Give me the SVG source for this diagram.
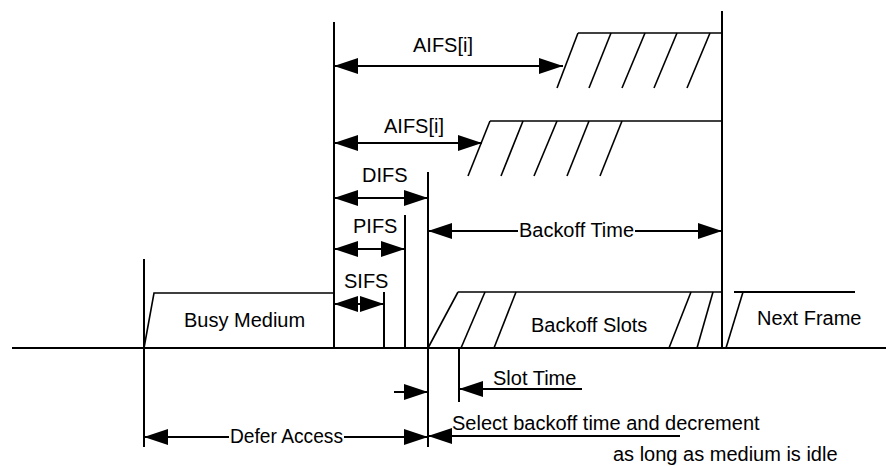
<svg xmlns="http://www.w3.org/2000/svg" width="886" height="466" viewBox="0 0 886 466">
<defs>
<marker id="ah" markerUnits="userSpaceOnUse" markerWidth="24" markerHeight="16" refX="24" refY="8" orient="auto-start-reverse">
<path d="M0,0 L24,8 L0,16 z" fill="#000"/>
</marker>
<style>
.ln{stroke:#000;stroke-width:2;fill:none}
.th{stroke:#000;stroke-width:1.6;fill:none}
.ar{stroke:#000;stroke-width:2;fill:none;marker-end:url(#ah)}
.da{stroke:#000;stroke-width:2;fill:none;marker-start:url(#ah);marker-end:url(#ah)}
text{font-family:"Liberation Sans",Arial,sans-serif;font-size:20px;fill:#000}
</style>
</defs>
<rect width="886" height="466" fill="#fff"/>

<g id="timeline">
<line class="ln" x1="12" y1="348" x2="886" y2="348"/>
</g>

<g id="busy-medium">
<polyline class="th" points="144,348 154,293 334,293"/>
<text x="184" y="327">Busy Medium</text>
</g>

<g id="aifs-top-slots">
<line class="th" x1="578" y1="33" x2="722" y2="33"/>
<line class="th" x1="557" y1="88" x2="578" y2="33"/>
<line class="th" x1="589" y1="88" x2="611" y2="33"/>
<line class="th" x1="622" y1="88" x2="645" y2="33"/>
<line class="th" x1="654" y1="88" x2="677" y2="33"/>
<line class="th" x1="687" y1="88" x2="710" y2="33"/>
</g>

<g id="aifs-second-slots">
<line class="th" x1="490" y1="121" x2="722" y2="121"/>
<line class="th" x1="468" y1="176" x2="490" y2="121"/>
<line class="th" x1="501" y1="176" x2="523" y2="121"/>
<line class="th" x1="534" y1="176" x2="557" y2="121"/>
<line class="th" x1="567" y1="176" x2="589" y2="121"/>
<line class="th" x1="600" y1="176" x2="622" y2="121"/>
</g>

<g id="backoff-slots">
<line class="th" x1="458" y1="292" x2="721" y2="292"/>
<line class="th" x1="428" y1="348" x2="458" y2="292"/>
<line class="th" x1="461" y1="348" x2="485" y2="292"/>
<line class="th" x1="494" y1="348" x2="516" y2="292"/>
<line class="th" x1="669" y1="348" x2="691" y2="292"/>
<line class="th" x1="697" y1="348" x2="713" y2="292"/>
<text x="531" y="332">Backoff Slots</text>
</g>

<g id="next-frame">
<line class="ln" x1="734" y1="292" x2="855" y2="292"/>
<line class="th" x1="726" y1="348" x2="743" y2="292"/>
<text x="757" y="325">Next Frame</text>
</g>

<g id="markers">
<line class="ln" x1="144" y1="259" x2="144" y2="447"/>
<line class="ln" x1="334" y1="22" x2="334" y2="348"/>
<line class="ln" x1="384" y1="292" x2="384" y2="348"/>
<line class="ln" x1="405" y1="215" x2="405" y2="348"/>
<line class="ln" x1="428" y1="172" x2="428" y2="447"/>
<line class="ln" x1="722" y1="11" x2="722" y2="348"/>
<line class="ln" x1="459" y1="348" x2="459" y2="402"/>
</g>

<g id="connectors">
<line class="ar" x1="450" y1="66" x2="334" y2="66"/>
<line class="ar" x1="450" y1="66" x2="563" y2="66"/>
<line class="da" x1="334" y1="143" x2="482" y2="143"/>
<line class="da" x1="334" y1="198" x2="428" y2="198"/>
<line class="da" x1="334" y1="249" x2="405" y2="249"/>
<line class="da" x1="334" y1="304" x2="384" y2="304"/>
<line class="ar" x1="518" y1="231" x2="428" y2="231"/>
<line class="ar" x1="635" y1="231" x2="722" y2="231"/>
<line class="ar" x1="582" y1="389" x2="459" y2="389"/>
<line class="ar" x1="394" y1="392" x2="428" y2="392"/>
<line class="ar" x1="229" y1="437" x2="144" y2="437"/>
<line class="ar" x1="344" y1="437" x2="428" y2="437"/>
<line class="ar" x1="680" y1="436" x2="428" y2="436"/>
</g>

<g id="labels">
<text x="413" y="52">AIFS[i]</text>
<text x="384" y="133">AIFS[i]</text>
<text x="362" y="182">DIFS</text>
<text x="353" y="233">PIFS</text>
<text x="344" y="288">SIFS</text>
<text x="519" y="237" textLength="115" lengthAdjust="spacingAndGlyphs">Backoff Time</text>
<text x="493" y="385">Slot Time</text>
<text x="230" y="443" textLength="113" lengthAdjust="spacingAndGlyphs">Defer Access</text>
<text x="452" y="430">Select backoff time and decrement</text>
<text x="613" y="461">as long as medium is idle</text>
</g>
</svg>
